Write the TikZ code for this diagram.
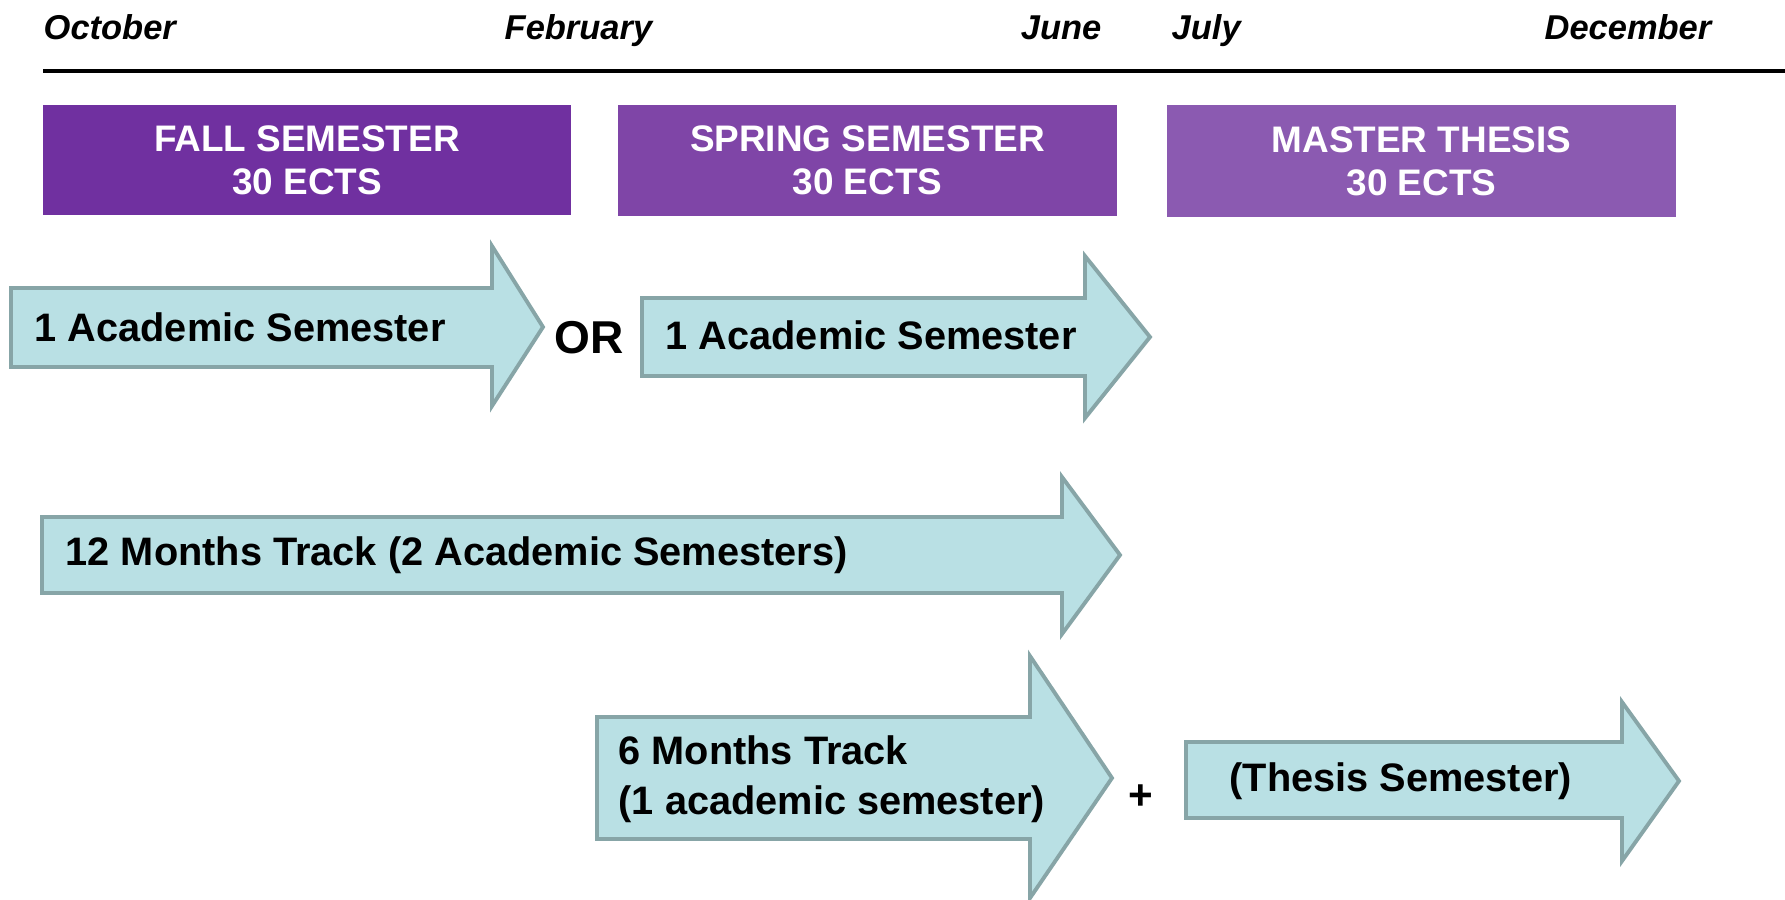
\documentclass[tikz,border=0pt]{standalone}
\usepackage{fontspec}
\setmainfont{Liberation Sans}
\definecolor{fallpurple}{HTML}{7030A0}
\definecolor{springpurple}{HTML}{7F45A7}
\definecolor{thesispurple}{HTML}{8B5AB1}
\definecolor{trackfill}{HTML}{B9E0E4}
\definecolor{trackline}{HTML}{87A5A7}
\tikzset{
  month/.style={anchor=base west, inner sep=0pt, font=\bfseries\itshape\fontsize{9.8}{12}\selectfont},
  semester/.style={fill=#1, text=white, inner sep=0pt, align=center,
    font=\bfseries\fontsize{10.5}{12.2}\selectfont},
  track/.style={fill=trackfill, draw=trackline, line width=1.1pt},
  tracktext/.style={anchor=west, inner sep=0pt, align=left,
    font=\bfseries\fontsize{11.3}{14.2}\selectfont}
}
\begin{document}
\begin{tikzpicture}[x=0.01cm, y=-0.01cm]
	\useasboundingbox (0,0) rectangle (1785,899);
	% months on top
	\node[month] (oct) at (43,39) {October};
	\node[month] (feb) at (504,39) {February};
	\node[month, anchor=base east] (jun) at (1102,39) {June};
	\node[month] (jul) at (1171,39) {July};
	\node[month, anchor=base east] (dec) at (1712,39) {December};
	\coordinate (ls) at (43,71);
	\coordinate (le) at (1785,71);
	\draw[line width=1.2pt] (ls) -- (le);
	% semesters
	\node[semester=fallpurple, minimum width=5.28cm, minimum height=1.10cm] (fall) at (307,160) {FALL SEMESTER\\30 ECTS};
	\node[semester=springpurple, minimum width=4.99cm, minimum height=1.11cm] (spring) at (867.5,160.5) {SPRING SEMESTER\\30 ECTS};
	\node[semester=thesispurple, minimum width=5.09cm, minimum height=1.12cm] (thesis) at (1421.5,161) {MASTER THESIS\\30 ECTS};
	% tracks
	\draw[track] (11,288) -- (492,288) -- (492,246) -- (543,327) -- (492,406) -- (492,367) -- (11,367) -- cycle;
	\node[tracktext] (acad1) at (34,327) {1 Academic Semester};
	\node[font=\bfseries\fontsize{13.1}{15}\selectfont] (or) at (589,338) {OR};
	\draw[track] (642,298) -- (1085,298) -- (1085,256) -- (1150,337) -- (1085,418) -- (1085,376) -- (642,376) -- cycle;
	\node[tracktext] (acad2) at (665,335) {1 Academic Semester};
	\draw[track] (42,517) -- (1062,517) -- (1062,477) -- (1120,555) -- (1062,634) -- (1062,593) -- (42,593) -- cycle;
	\node[tracktext] (twelve) at (65,555) {12 Months Track (2 Academic Semesters)};
	\draw[track] (597,717) -- (1030,717) -- (1030,656) -- (1112,778) -- (1030,898) -- (1030,839) -- (597,839) -- cycle;
	\node[tracktext] (six) at (618,779) {6 Months Track\\(1 academic semester)};
	\node[font=\bfseries\fontsize{12}{14}\selectfont] (plus) at (1141,797) {+};
	\draw[track] (1186,742) -- (1622,742) -- (1622,702) -- (1679,781) -- (1622,861) -- (1622,818) -- (1186,818) -- cycle;
	\node[tracktext] (thsem) at (1229,781) {(Thesis Semester)};
\end{tikzpicture}
\end{document}
